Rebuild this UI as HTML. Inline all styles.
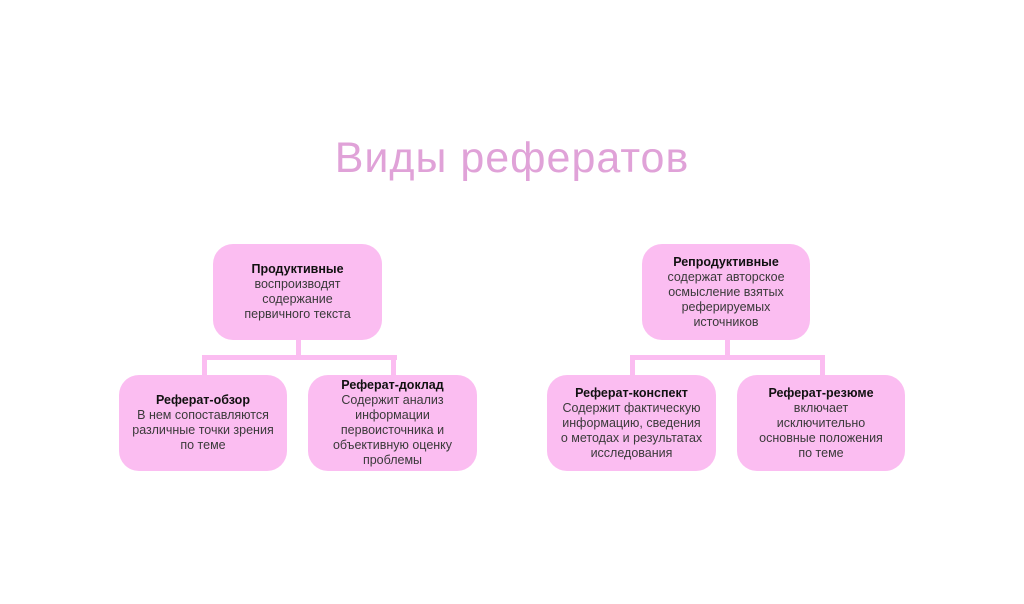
<!DOCTYPE html>
<html><head><meta charset="utf-8"><style>
body{margin:0;width:1024px;height:604px;background:#fff;position:relative;overflow:hidden;font-family:"Liberation Sans","DejaVu Sans",sans-serif}
.t{position:absolute;left:0;width:1024px;top:134px;text-align:center;font-size:43px;color:#e0a2d8;letter-spacing:1px}
.b{position:absolute;background:#fbbdf1;border-radius:20px;display:flex;flex-direction:column;justify-content:center;align-items:center;text-align:center;font-size:12.5px;line-height:15px;color:#3a3a3a;box-sizing:border-box;padding:0 4px;white-space:nowrap}
.b b{color:#111}
.l{position:absolute;background:#fbbdf1}
</style></head><body>
<div class="t">Виды рефератов</div>

<div class="l" style="left:296px;top:338px;width:5px;height:22px"></div>
<div class="l" style="left:202px;top:355px;width:195px;height:5px"></div>
<div class="l" style="left:202px;top:355px;width:5px;height:22px"></div>
<div class="l" style="left:391px;top:355px;width:5px;height:22px"></div>

<div class="l" style="left:725px;top:338px;width:5px;height:22px"></div>
<div class="l" style="left:630px;top:355px;width:195px;height:5px"></div>
<div class="l" style="left:630px;top:355px;width:5px;height:22px"></div>
<div class="l" style="left:820px;top:355px;width:5px;height:22px"></div>

<div class="b" style="left:213px;top:244px;width:169px;height:96px"><b>Продуктивные</b>воспроизводят<br>содержание<br>первичного текста</div>
<div class="b" style="left:119px;top:375px;width:168px;height:96px"><b>Реферат-обзор</b>В нем сопоставляются<br>различные точки зрения<br>по теме</div>
<div class="b" style="left:308px;top:375px;width:169px;height:96px"><b>Реферат-доклад</b>Содержит анализ<br>информации<br>первоисточника и<br>объективную оценку<br>проблемы</div>

<div class="b" style="left:642px;top:244px;width:168px;height:96px"><b>Репродуктивные</b>содержат авторское<br>осмысление взятых<br>реферируемых<br>источников</div>
<div class="b" style="left:547px;top:375px;width:169px;height:96px"><b>Реферат-конспект</b>Содержит фактическую<br>информацию, сведения<br>о методах и результатах<br>исследования</div>
<div class="b" style="left:737px;top:375px;width:168px;height:96px"><b>Реферат-резюме</b>включает<br>исключительно<br>основные положения<br>по теме</div>
</body></html>
